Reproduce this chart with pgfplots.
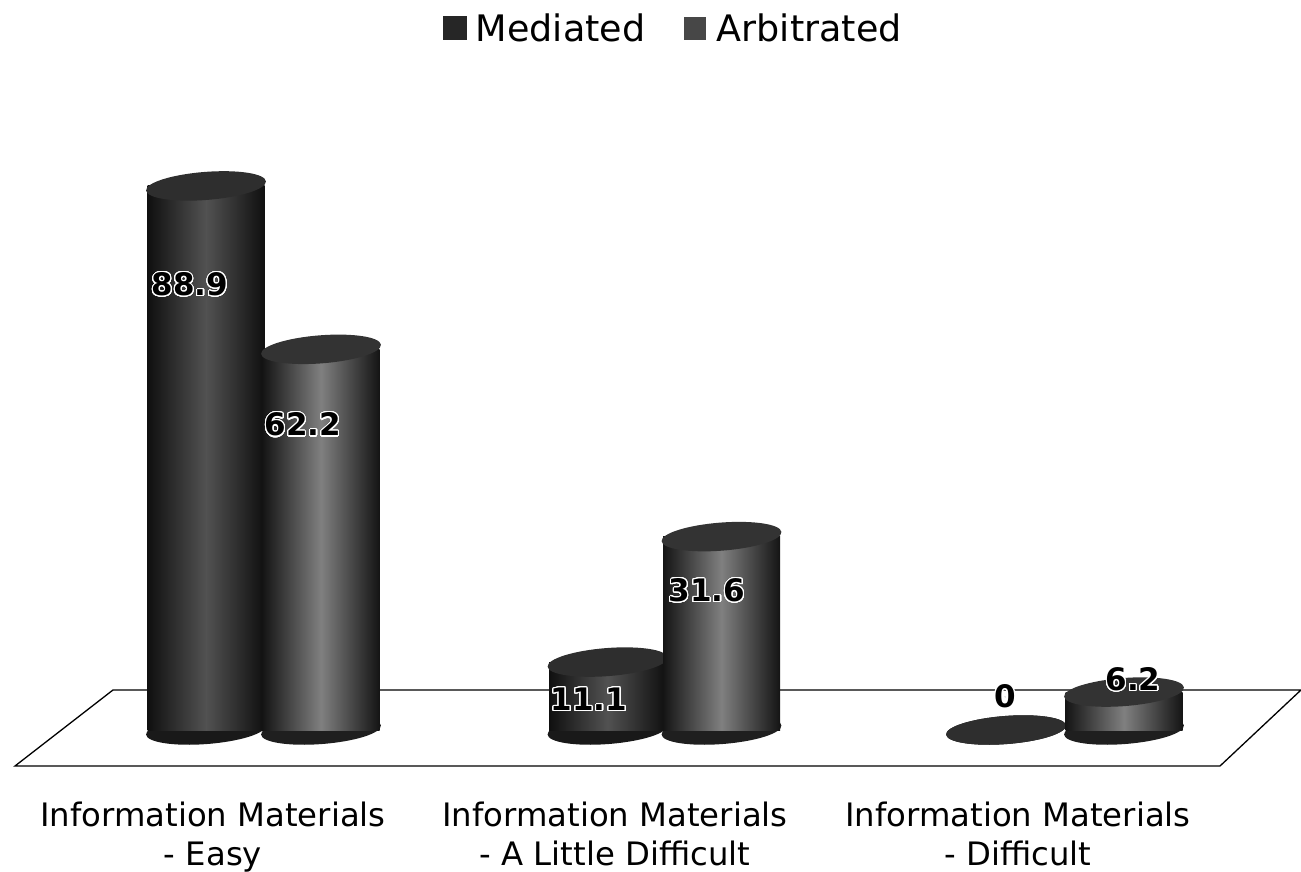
\documentclass[border=0pt]{standalone}
\usepackage{pgfplots}
\pgfplotsset{compat=1.18}
\usepackage{pgfplotstable}
\usepackage{fontspec}
\setmainfont{DejaVu Sans}
\usepackage[copies]{contour}
\contournumber{32}
\contourlength{1.1pt}

% colours of the two series
\definecolor{medEdge}{gray}{0.06}
\definecolor{medMid}{gray}{0.32}
\definecolor{medTop}{gray}{0.18}
\definecolor{medFoot}{gray}{0.10}
\definecolor{arbEdge}{gray}{0.08}
\definecolor{arbMid}{gray}{0.50}
\definecolor{arbTop}{gray}{0.20}
\definecolor{arbFoot}{gray}{0.12}

% flattened, slightly tilted disc that closes a cylinder
\pgfdeclareplotmark{disc}{%
  \pgfpathellipse{\pgfpointorigin}{\pgfpoint{59.9pt}{4.6pt}}{\pgfpoint{-1.1pt}{14pt}}%
  \pgfusepathqfill}

\pgfplotstableread{
pos value
206    88.9
607.5  11.1
1006   0
}\mediated
\pgfplotstableread{
pos value
321    62.2
721.5  31.6
1124   6.2
}\arbitrated
% where each value is written on its cylinder
\pgfplotstableread{
x    y    label
190  72.7 88.9
303  49.8 62.2
589  4.9  11.1
707  22.7 31.6
1005 5.4  0
1133 8.2  6.2
}\labels

% side wall of one cylinder: #1 edge colour, #2 middle colour, #3 position range, #4 table
\newcommand{\wall}[4]{%
  \addplot[ybar,bar width=117pt,bar shift=0pt,draw=none,forget plot,
    left color=#1,right color=#1,middle color=#2,restrict x to domain=#3]
    table[x=pos,y=value] {#4};}

\begin{document}
\begin{tikzpicture}
\useasboundingbox (0,-106pt) rectangle (1301pt,766pt);
\begin{axis}[
  at={(0,0)}, anchor=south west,
  scale only axis, width=1301pt, height=766pt,
  xmin=0, xmax=1301, ymin=-5.88, ymax=119.28,
  clip=false,
  clip marker paths=true,
  axis line style={draw=none},
  major tick length=0pt,
  ytick=\empty,
  xtick={213,615,1018},
  xticklabels={{Information Materials\\- Easy},{Information Materials\\- A Little Difficult},{Information Materials\\- Difficult}},
  xticklabel style={align=center,font=\fontsize{32.3}{39}\selectfont,yshift=-32pt},
  legend columns=2,
  legend style={draw=none,fill=none,at={(axis cs:673.5,114.6)},anchor=center,
    font=\fontsize{36.5}{36.5}\selectfont,
    /tikz/every even column/.append style={column sep=37pt},
    inner sep=0pt},
]
\addlegendimage{legend image code/.code={\fill[black!85!white] (0pt,-11pt) rectangle (23pt,12pt);}}
\addlegendentry{\hspace*{7pt}Mediated}
\addlegendimage{legend image code/.code={\fill[black!72!white] (0pt,-11pt) rectangle (21pt,11pt);}}
\addlegendentry{\hspace*{9pt}Arbitrated}

% floor of the chart
\addplot[black,line width=1.3pt,forget plot] coordinates {(15,-5.88) (1220,-5.88) (1301,6.54) (113,6.54)} -- cycle;

% Mediated cylinders; a value of zero has no side wall, only its disc
\addplot[only marks,mark=disc,mark options={fill=medFoot,draw=none},forget plot] table[x=pos,y expr=0] {\mediated};
\wall{medEdge}{medMid}{200:210}{\mediated}
\wall{medEdge}{medMid}{600:610}{\mediated}
\addplot[only marks,mark=disc,mark options={fill=medTop,draw=none},forget plot] table[x=pos,y=value] {\mediated};

% Arbitrated cylinders
\addplot[only marks,mark=disc,mark options={fill=arbFoot,draw=none},forget plot] table[x=pos,y expr=0] {\arbitrated};
\wall{arbEdge}{arbMid}{315:325}{\arbitrated}
\wall{arbEdge}{arbMid}{715:725}{\arbitrated}
\wall{arbEdge}{arbMid}{1120:1130}{\arbitrated}
\addplot[only marks,mark=disc,mark options={fill=arbTop,draw=none},forget plot] table[x=pos,y=value] {\arbitrated};

% value labels, above the discs
\addplot[only marks,mark=*,mark size=0.01pt,mark options={draw=none,fill=none},forget plot,
  point meta=explicit symbolic,
  nodes near coords={\contour{white}{\pgfplotspointmeta}},
  nodes near coords align={center},
  every node near coord/.append style={font=\fontsize{31}{31}\selectfont\bfseries,text=black,inner sep=0pt}]
  table[x=x,y=y,meta=label] {\labels};
\end{axis}
\end{tikzpicture}
\end{document}
